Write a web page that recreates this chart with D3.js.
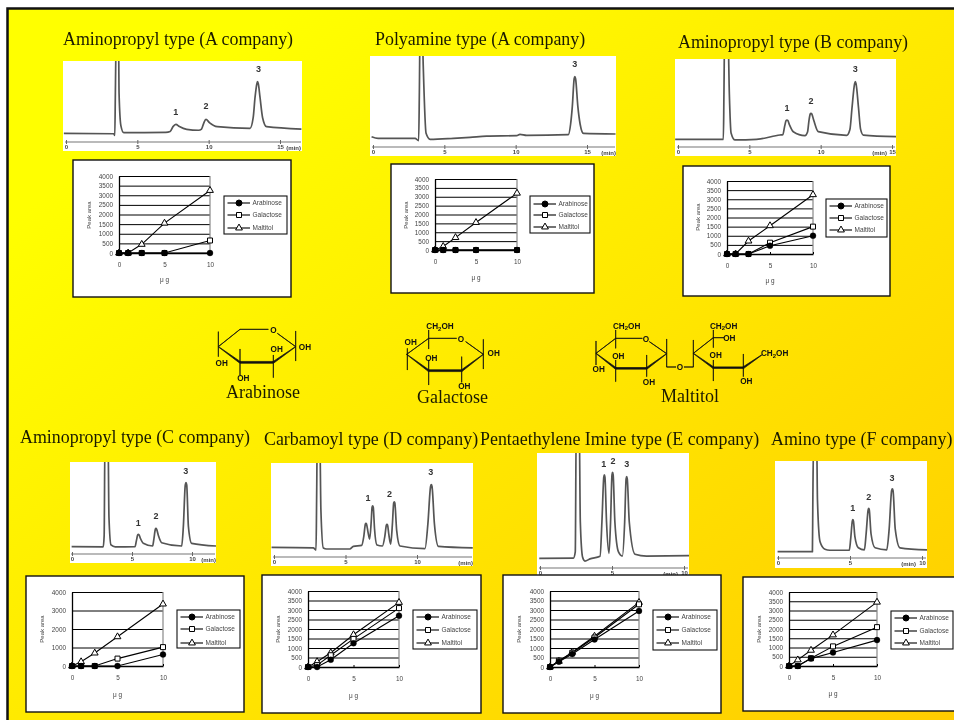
<!DOCTYPE html>
<html>
<head>
<meta charset="utf-8">
<script src="https://cdn.jsdelivr.net/npm/d3@7"></script>
<style>
body { margin: 0; background: #fff; }
svg { display: block; filter: blur(0.35px); }
text { font-family: "Liberation Sans", Arial, sans-serif; }
.title, .name { font-family: "Liberation Serif", "Times New Roman", serif; fill: #1a1a00; }
</style>
</head>
<body>
<svg id="chart" width="954" height="720"></svg>
<script>
// calibration curves, x in micrograms, y in peak area
var amounts = [0, 1, 2.5, 5, 10];
var seriesNames = ["Arabinose", "Galactose", "Maltitol"];

var arabinoseA = [0, 0, 0, 0, 0];
var galactoseA = [0, 0, 0, 0, 650];
var maltitolA = [0, 0, 450, 1550, 3250];

var arabinoseP = [0, 0, 0, 0, 0];
var galactoseP = [0, 0, 0, 0, 0];
var maltitolP = [0, 200, 700, 1550, 3200];

var arabinoseB = [0, 0, 0, 450, 1000];
var galactoseB = [0, 0, 0, 620, 1500];
var maltitolB = [0, 0, 710, 1550, 3250];

var arabinoseC = [0, 0, 0, 0, 620];
var galactoseC = [0, 0, 0, 400, 1020];
var maltitolC = [0, 230, 700, 1580, 3350];

var arabinoseD = [0, 0, 380, 1250, 2700];
var galactoseD = [0, 100, 620, 1480, 3100];
var maltitolD = [0, 280, 750, 1700, 3400];

var arabinoseE = [0, 280, 680, 1450, 2950];
var galactoseE = [0, 330, 750, 1550, 3300];
var maltitolE = [0, 300, 780, 1620, 3400];

var arabinoseF = [0, 0, 400, 730, 1400];
var galactoseF = [0, 0, 420, 1060, 2100];
var maltitolF = [0, 330, 850, 1680, 3450];

var yTicks500 = [0, 500, 1000, 1500, 2000, 2500, 3000, 3500, 4000];
var yTicks1000 = [0, 1000, 2000, 3000, 4000];
var xTicks = [0, 5, 10];

// chromatogram traces: [minutes, signal], 100 = top of the plate
var traceA = [[-0.15,10.7],[3.35,10.2],[3.42,8],[3.46,60],[3.52,130],[3.68,130],[3.72,60],[3.85,20],[4.05,11.5],[7.0,12],[7.3,13],[7.5,19],[7.7,21.8],[7.95,19],[8.46,15.6],[9.3,14.5],[9.5,16],[9.65,23],[9.81,28],[10.05,24],[10.6,18.9],[12.9,16.9],[13.12,30],[13.25,55],[13.38,72],[13.43,74.5],[13.48,72],[13.6,55],[13.78,30],[14.06,18.9],[16.5,16]];
var traceP = [[-0.1,11.3],[0.36,9.5],[2.95,9.5],[3.2,7],[3.25,60],[3.3,130],[3.45,130],[3.52,90],[3.72,15],[4.0,8.4],[5.63,9.5],[6.8,10.6],[7.96,12],[10.07,12.5],[10.3,13.9],[10.77,12.8],[13.69,13.5],[13.85,25],[13.97,44.3],[14.1,75],[14.15,77.3],[14.2,75],[14.36,44.3],[14.52,25],[14.75,15],[17,14.3]];
var traceB = [[-0.2,8.7],[3.18,8.7],[3.22,60],[3.27,130],[3.5,130],[3.6,60],[3.72,16],[4.0,8],[5.5,8.7],[7.15,13.6],[7.35,14],[7.48,24],[7.58,30],[7.64,30.7],[7.7,30],[7.82,25],[8.08,17.4],[8.9,12.9],[9.08,17],[9.18,30],[9.27,37.5],[9.32,38.3],[9.38,37.5],[9.52,30],[9.83,17.4],[11.82,13.3],[12.05,20],[12.2,45],[12.38,72],[12.43,74.2],[12.48,72],[12.65,45],[12.8,20],[12.99,13.6],[15.3,11.7]];
var traceC = [[-0.03,8],[2.6,7.7],[2.68,20],[2.75,130],[3.0,130],[3.08,40],[3.25,9.8],[3.6,7.7],[5.25,8],[5.36,14],[5.48,21],[5.53,21.4],[5.58,21],[5.7,17],[5.94,11.6],[6.72,8.7],[6.82,16],[6.95,27],[7.0,27.9],[7.05,27],[7.2,20],[7.47,12.3],[9.14,8.7],[9.28,30],[9.44,75],[9.5,77.5],[9.56,75],[9.7,30],[9.97,11.6],[12,8.7]];
var traceD = [[-0.17,10.3],[2.75,9.8],[2.94,7.4],[2.98,60],[3.03,130],[3.2,130],[3.28,50],[3.45,9.6],[3.68,8.5],[5.3,8.5],[5.55,11.3],[6.13,12.4],[6.28,22],[6.39,35],[6.43,35.8],[6.47,35],[6.58,26],[6.69,19.1],[6.8,38],[6.86,53],[6.9,54.3],[6.94,53],[7.03,30],[7.2,12.8],[7.58,11.7],[7.75,22],[7.86,34],[7.9,34.8],[7.94,34],[8.03,24],[8.16,13.8],[8.28,35],[8.37,57.5],[8.41,58.8],[8.45,57.5],[8.58,28],[8.81,11.7],[10.56,9],[10.76,35],[10.95,75],[11.0,76.9],[11.05,75],[11.22,35],[11.5,11.3],[13.9,9.7]];
var traceE = [[-0.05,8.4],[2.32,8.6],[2.45,14],[2.52,130],[2.72,130],[2.8,40],[2.96,9.3],[3.12,6],[3.47,7.9],[4.17,10.2],[4.3,40],[4.43,79],[4.47,80.9],[4.51,79],[4.62,40],[4.79,12.8],[4.9,40],[5.0,81],[5.04,83.2],[5.08,81],[5.2,40],[5.45,14],[5.72,10.4],[5.88,40],[5.98,77.5],[6.02,79.4],[6.06,77.5],[6.2,40],[6.6,12],[7.4,10.4],[10.35,10.7]];
var traceF = [[-0.03,6.5],[2.39,6.5],[2.42,60],[2.48,130],[2.68,130],[2.74,60],[2.92,16.8],[3.26,9],[3.6,8],[4.95,8],[5.05,20],[5.16,38],[5.2,39.5],[5.24,38],[5.34,22],[5.58,10.5],[6.0,8.4],[6.12,25],[6.26,49.5],[6.3,51.1],[6.34,49.5],[6.46,25],[6.74,10.5],[7.55,8.4],[7.72,30],[7.89,69.5],[7.94,71.3],[7.99,69.5],[8.14,30],[8.47,10.5],[10.35,8.4]];

// peak numbers: [minutes, signal, label]
var peaksA = [[7.7,37,"1"],[9.81,44.4,"2"],[13.5,90,"3"]];
var peaksP = [[14.15,91,"3"]];
var peaksB = [[7.64,45,"1"],[9.32,52.6,"2"],[12.43,88.6,"3"]];
var peaksC = [[5.53,34.4,"1"],[7.0,41.3,"2"],[9.47,90.6,"3"]];
var peaksD = [[6.57,63.1,"1"],[8.07,67,"2"],[10.97,90.4,"3"]];
var peaksE = [[4.42,91,"1"],[5.07,93.3,"2"],[6.02,90.2,"3"]];
var peaksF = [[5.19,51.7,"1"],[6.3,62.9,"2"],[7.92,82.9,"3"]];

var chromTicks15 = [0, 5, 10, 15];
var chromTicks10 = [0, 5, 10];

// page layout
var panels = [
	{ title: "Aminopropyl type (A company)", tx: 63, ty: 45,
	  plate: [63, 302, 61, 151], axisY: 142, t0: 66, t1: 280, ticks: chromTicks15, trace: traceA, peaks: peaksA, minLabel: "(min)", minX: 301,
	  box: [73, 291, 160, 297], plot: [119, 210, 176, 253], legend: [224, 287, 196, 234], rows: [203, 215, 228], peakX: 89, peakY: 215, xLab: 280,
	  yTicks: yTicks500, ara: arabinoseA, gal: galactoseA, mal: maltitolA },
	{ title: "Polyamine type (A company)", tx: 375, ty: 45,
	  plate: [370, 616, 56, 156], axisY: 147, t0: 373, t1: 587, ticks: chromTicks15, trace: traceP, peaks: peaksP, minLabel: "(min)", minX: 616,
	  box: [391, 594, 164, 293], plot: [435, 517, 179, 250], legend: [530, 590, 196, 233], rows: [204, 215, 227], peakX: 406, peakY: 215, xLab: 278,
	  yTicks: yTicks500, ara: arabinoseP, gal: galactoseP, mal: maltitolP },
	{ title: "Aminopropyl type (B company)", tx: 678, ty: 47.5,
	  plate: [675, 896, 59, 156], axisY: 147, t0: 678, t1: 892, ticks: chromTicks15, trace: traceB, peaks: peaksB, minLabel: "(min)", minX: 887,
	  box: [683, 890, 166, 296], plot: [727, 813, 181, 254], legend: [826, 887, 199, 237], rows: [206, 218, 230], peakX: 698, peakY: 217, xLab: 281,
	  yTicks: yTicks500, ara: arabinoseB, gal: galactoseB, mal: maltitolB },
	{ title: "Aminopropyl type (C company)", tx: 20, ty: 442.7,
	  plate: [70, 216, 462, 563], axisY: 554, t0: 72, t1: 192, ticks: chromTicks10, trace: traceC, peaks: peaksC, minLabel: "(min)", minX: 216,
	  box: [26, 244, 576, 712], plot: [72, 163, 592, 666], legend: [177, 240, 610, 648], rows: [617, 629, 643], peakX: 42, peakY: 629, xLab: 695,
	  yTicks: yTicks1000, ara: arabinoseC, gal: galactoseC, mal: maltitolC },
	{ title: "Carbamoyl type (D company)", tx: 264, ty: 445,
	  plate: [271, 473, 463, 566], axisY: 557, t0: 274, t1: 417, ticks: chromTicks10, trace: traceD, peaks: peaksD, minLabel: "(min)", minX: 473,
	  box: [262, 481, 575, 713], plot: [308, 399, 591, 667], legend: [413, 477, 610, 649], rows: [617, 630, 643], peakX: 278, peakY: 629, xLab: 696,
	  yTicks: yTicks500, ara: arabinoseD, gal: galactoseD, mal: maltitolD },
	{ title: "Pentaethylene Imine type (E company)", tx: 480, ty: 445,
	  plate: [537, 689, 453, 575], axisY: 568, t0: 540, t1: 684, ticks: chromTicks10, trace: traceE, peaks: peaksE, minLabel: "(min)", minX: 678,
	  box: [503, 721, 575, 713], plot: [550, 639, 591, 667], legend: [653, 717, 610, 650], rows: [617, 630, 643], peakX: 519, peakY: 629, xLab: 696,
	  yTicks: yTicks500, ara: arabinoseE, gal: galactoseE, mal: maltitolE },
	{ title: "Amino type (F company)", tx: 771, ty: 445,
	  plate: [775, 927, 461, 568], axisY: 558, t0: 778, t1: 922, ticks: chromTicks10, trace: traceF, peaks: peaksF, minLabel: "(min)", minX: 916,
	  box: [743, 956, 577, 711], plot: [789, 877, 592, 666], legend: [891, 953, 611, 649], rows: [618, 631, 643], peakX: 759, peakY: 629, xLab: 694,
	  yTicks: yTicks500, ara: arabinoseF, gal: galactoseF, mal: maltitolF }
];

// sugar structures, in their own drawing units: [x1, y1, x2, y2, startWidth, endWidth]
var arabinoseBonds = [[55,125,120,73,1,1],[120,73,205,73,1,1],[232,85,287,125,1,1],[287,125,220,172,2,10],[220,172,120,172,11,11],[120,172,55,125,10,2],[55,80,55,155,1,1],[120,132,120,210,1,1],[220,150,220,218,1,1],[287,78,287,168,1,1]];
var arabinoseLabels = [[220,75,"O"],[315,126,"OH"],[230,131,"OH"],[65,174,"OH"],[130,218,"OH"]];
var galactoseBonds = [[620,148,686,100,1,1],[686,100,770,100,1,1],[797,110,850,148,1,1],[850,148,785,197,2,10],[785,197,686,197,11,11],[686,197,620,148,10,2],[622,130,622,195,1,1],[686,75,686,132,1,1],[686,165,686,240,1,1],[785,155,785,232,1,1],[850,103,850,192,1,1]];
var galactoseLabels = [[720,64,"CH2OH"],[783,101,"O"],[632,111,"OH"],[694,159,"OH"],[793,243,"OH"],[881,144,"OH"]];
var maltitolBonds = [[78,145,137,100,1,1],[137,100,217,100,1,1],[238,110,290,146,1,1],[290,146,230,190,2,10],[230,190,137,190,10,10],[137,190,78,145,10,2],[78,108,78,180,1,1],[137,75,137,130,1,1],[137,165,137,230,1,1],[230,150,230,215,1,1],[290,102,290,186,1,1],[290,186,318,186,1,1],[342,186,370,186,1,1],[370,186,370,105,1,1],[370,145,430,98,1,1],[430,75,430,128,1,1],[430,98,462,98,1,1],[370,145,430,188,2,10],[430,188,520,188,9,9],[520,188,575,150,10,2],[430,165,430,228,1,1],[520,147,520,215,1,1]];
var maltitolLabels = [[170,63,"CH2OH"],[228,102,"O"],[145,153,"OH"],[86,192,"OH"],[237,232,"OH"],[330,186,"O"],[461,63,"CH2OH"],[478,98,"OH"],[437,150,"OH"],[529,228,"OH"],[614,145,"CH2OH"]];

var svg = d3.select("#chart");

// slide background
var defs = svg.append("defs");
var grad = defs.append("linearGradient").attr("id", "slideBg")
	.attr("x1", "0").attr("y1", "0").attr("x2", "1").attr("y2", "1");
grad.append("stop").attr("offset", "0").attr("stop-color", "#ffff00");
grad.append("stop").attr("offset", "0.15").attr("stop-color", "#ffff00");
grad.append("stop").attr("offset", "1").attr("stop-color", "#ffcc00");

svg.append("rect").attr("x", 7.5).attr("y", 8.5).attr("width", 950).attr("height", 715)
	.attr("fill", "url(#slideBg)").attr("stroke", "#111").attr("stroke-width", 2.5);

panels.forEach(function(p, i) {
	drawTitle(p);
	drawChromatogram(p, i);
	drawCurves(p);
});

drawStructure(arabinoseBonds, arabinoseLabels, [200, 305]);
drawStructure(galactoseBonds, galactoseLabels, [200, 305]);
drawStructure(maltitolBonds, maltitolLabels, [570, 305]);

svg.append("text").attr("class", "name").attr("x", 263).attr("y", 398).attr("text-anchor", "middle").attr("font-size", 18).text("Arabinose");
svg.append("text").attr("class", "name").attr("x", 452.5).attr("y", 403).attr("text-anchor", "middle").attr("font-size", 18).text("Galactose");
svg.append("text").attr("class", "name").attr("x", 690).attr("y", 402).attr("text-anchor", "middle").attr("font-size", 18).text("Maltitol");

function drawTitle(p) {
	svg.append("text").attr("class", "title")
		.attr("x", p.tx).attr("y", p.ty)
		.attr("font-size", 17.9)
		.text(p.title);
}

function drawChromatogram(p, i) {
	var x0 = p.plate[0], x1 = p.plate[1], y0 = p.plate[2], y1 = p.plate[3];
	var tMax = p.ticks[p.ticks.length - 1];
	var x = d3.scaleLinear().domain([0, tMax]).range([p.t0, p.t1]);
	var y = d3.scaleLinear().domain([0, 100]).range([p.axisY, y0]);

	svg.append("rect").attr("x", x0).attr("y", y0).attr("width", x1 - x0).attr("height", y1 - y0).attr("fill", "#fff");

	defs.append("clipPath").attr("id", "plate" + i).append("rect")
		.attr("x", x0).attr("y", y0).attr("width", x1 - x0).attr("height", y1 - y0);

	var line = d3.line()
		.x(function(d) { return x(d[0]); })
		.y(function(d) { return y(d[1]); })
		.curve(d3.curveMonotoneX);

	svg.append("path").datum(p.trace)
		.attr("d", line)
		.attr("fill", "none")
		.attr("stroke", "#555")
		.attr("stroke-width", 1.7)
		.attr("stroke-linejoin", "round")
		.attr("clip-path", "url(#plate" + i + ")");

	svg.selectAll(null).data(p.peaks).enter().append("text")
		.attr("x", function(d) { return x(d[0]); })
		.attr("y", function(d) { return y(d[1]); })
		.attr("dy", "0.35em")
		.attr("text-anchor", "middle")
		.attr("font-size", 9)
		.attr("font-weight", "bold")
		.attr("fill", "#333")
		.text(function(d) { return d[2]; });

	var axis = d3.axisBottom(x).tickValues(p.ticks).tickFormat(d3.format("d")).tickSize(2).tickPadding(1).tickSizeOuter(0);
	var g = svg.append("g").attr("transform", "translate(0," + p.axisY + ")").call(axis);
	g.select(".domain").attr("stroke", "#777").attr("stroke-width", 1.2).attr("d", "M" + (p.t0 - 1) + ",0H" + (x1 - 1));
	g.selectAll(".tick line").attr("y1", -2).attr("stroke", "#666");
	g.selectAll(".tick text").attr("font-size", 6).attr("font-weight", "bold").attr("fill", "#444")
		.style("font-family", '"Liberation Sans", Arial, sans-serif');

	svg.append("text").attr("x", p.minX).attr("y", p.axisY + 7.5)
		.attr("text-anchor", "end").attr("font-size", 6).attr("font-weight", "bold").attr("fill", "#444")
		.text(p.minLabel);
}

function drawCurves(p) {
	var bx0 = p.box[0], bx1 = p.box[1], by0 = p.box[2], by1 = p.box[3];
	svg.append("rect").attr("x", bx0).attr("y", by0).attr("width", bx1 - bx0).attr("height", by1 - by0)
		.attr("fill", "#fff").attr("stroke", "#111").attr("stroke-width", 1.4);

	var x = d3.scaleLinear().domain([0, 10]).range([p.plot[0], p.plot[1]]);
	var y = d3.scaleLinear().domain([0, 4000]).range([p.plot[3], p.plot[2]]);

	var gy = svg.append("g").attr("transform", "translate(" + p.plot[0] + ",0)")
		.call(d3.axisLeft(y).tickValues(p.yTicks).tickFormat(d3.format("d")).tickSize(-(p.plot[1] - p.plot[0])).tickSizeOuter(0).tickPadding(6));
	gy.selectAll(".tick line").attr("stroke", "#000").attr("stroke-width", 1);
	gy.select(".domain").attr("stroke", "#000").attr("stroke-width", 1.3);
	gy.selectAll(".tick text").attr("font-size", 6.4).attr("fill", "#444")
		.style("font-family", '"Liberation Sans", Arial, sans-serif');

	svg.append("line").attr("x1", x(10)).attr("x2", x(10)).attr("y1", y(4000)).attr("y2", y(0))
		.attr("stroke", "#888").attr("stroke-width", 1.2);

	var gx = svg.append("g").attr("transform", "translate(0," + p.plot[3] + ")")
		.call(d3.axisBottom(x).tickValues(xTicks).tickFormat(d3.format("d")).tickSize(-2).tickSizeOuter(0).tickPadding(9));
	gx.selectAll(".tick line").attr("stroke", "#000");
	gx.select(".domain").attr("stroke", "#000").attr("stroke-width", 1.4);
	gx.selectAll(".tick text").attr("font-size", 6.4).attr("fill", "#444")
		.style("font-family", '"Liberation Sans", Arial, sans-serif');

	svg.append("text")
		.attr("transform", "translate(" + p.peakX + "," + p.peakY + ") rotate(-90)")
		.attr("text-anchor", "middle").attr("dy", "0.35em")
		.attr("font-size", 6).attr("fill", "#444")
		.text("Peak area");

	svg.append("text")
		.attr("x", (p.plot[0] + p.plot[1]) / 2).attr("y", p.xLab)
		.attr("dy", "0.35em").attr("text-anchor", "middle")
		.attr("font-size", 6.4).attr("fill", "#444")
		.text("\u03bc g");

	var line = d3.line()
		.x(function(d, i) { return x(amounts[i]); })
		.y(function(d) { return y(d); });

	// maltitol first so the filled circles end up on top
	[p.mal, p.gal, p.ara].forEach(function(values) {
		svg.append("path").datum(values).attr("d", line)
			.attr("fill", "none").attr("stroke", "#000").attr("stroke-width", 1.1);
	});
	drawMarkers(p.mal, 2, x, y);
	drawMarkers(p.gal, 1, x, y);
	drawMarkers(p.ara, 0, x, y);

	// legend
	var lx0 = p.legend[0], lx1 = p.legend[1], ly0 = p.legend[2], ly1 = p.legend[3];
	svg.append("rect").attr("x", lx0).attr("y", ly0).attr("width", lx1 - lx0).attr("height", ly1 - ly0)
		.attr("fill", "#fff").attr("stroke", "#111").attr("stroke-width", 1.1);
	seriesNames.forEach(function(name, k) {
		var ry = p.rows[k];
		svg.append("line").attr("x1", lx0 + 3.5).attr("x2", lx0 + 26).attr("y1", ry).attr("y2", ry)
			.attr("stroke", "#000").attr("stroke-width", 1.1);
		svg.append("path").attr("d", markerPath(k))
			.attr("transform", "translate(" + (lx0 + 15) + "," + ry + ")")
			.attr("fill", k == 0 ? "#000" : "#fff").attr("stroke", "#000").attr("stroke-width", 1);
		svg.append("text").attr("x", lx0 + 28.5).attr("y", ry).attr("dy", "0.35em")
			.attr("font-size", 6.5).attr("fill", "#444").text(name);
	});
}

function markerPath(k) {
	if (k == 0) return d3.symbol().type(d3.symbolCircle).size(28)();
	if (k == 1) return d3.symbol().type(d3.symbolSquare).size(25)();
	return d3.symbol().type(d3.symbolTriangle).size(20)();
}

function drawMarkers(values, k, x, y) {
	svg.selectAll(null).data(values).enter().append("path")
		.attr("d", markerPath(k))
		.attr("transform", function(d, i) { return "translate(" + x(amounts[i]) + "," + y(d) + ")"; })
		.attr("fill", k == 0 ? "#000" : "#fff")
		.attr("stroke", "#000")
		.attr("stroke-width", k == 0 ? 0.3 : 1);
}

function drawStructure(bonds, labels, origin) {
	var sx = function(v) { return origin[0] + v / 3; };
	var sy = function(v) { return origin[1] + v / 3; };

	bonds.forEach(function(b) {
		var x1 = sx(b[0]), y1 = sy(b[1]), x2 = sx(b[2]), y2 = sy(b[3]);
		var len = Math.sqrt((x2 - x1) * (x2 - x1) + (y2 - y1) * (y2 - y1));
		var nx = -(y2 - y1) / len, ny = (x2 - x1) / len;
		var w1 = b[4] / 12, w2 = b[5] / 12;
		var pts = [[x1 + nx * w1, y1 + ny * w1], [x2 + nx * w2, y2 + ny * w2], [x2 - nx * w2, y2 - ny * w2], [x1 - nx * w1, y1 - ny * w1]];
		svg.append("path").attr("d", d3.line()(pts) + "Z").attr("fill", "#111").attr("stroke", "#111").attr("stroke-width", 0.7);
	});

	labels.forEach(function(l) {
		var t = svg.append("text").attr("x", sx(l[0])).attr("y", sy(l[1])).attr("dy", "0.35em")
			.attr("text-anchor", "middle").attr("font-size", 8.2).attr("font-weight", "bold").attr("fill", "#111");
		if (l[2] == "CH2OH") {
			t.append("tspan").text("CH");
			t.append("tspan").attr("font-size", 6).attr("dy", "0.25em").text("2");
			t.append("tspan").attr("dy", "-0.2em").text("OH");
		} else {
			t.text(l[2]);
		}
	});
}
</script>
</body>
</html>
